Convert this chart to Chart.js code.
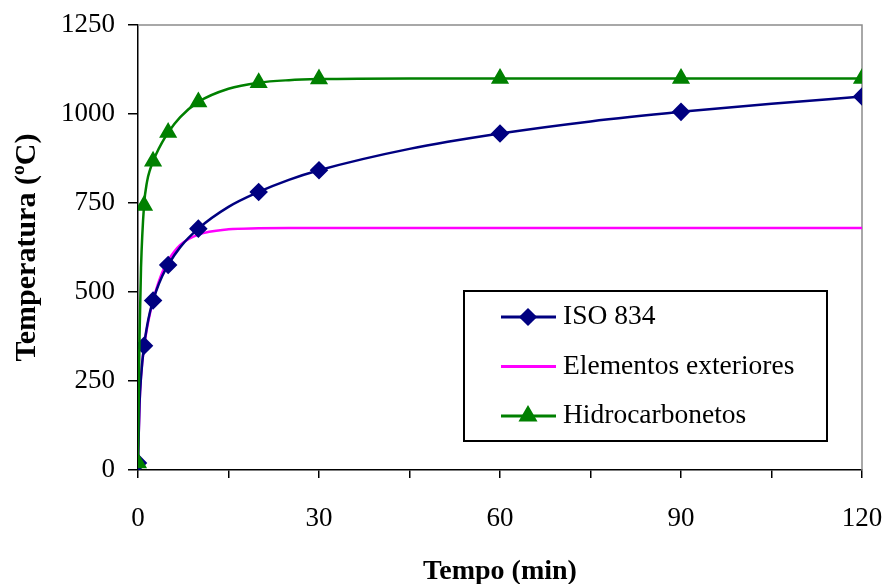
<!DOCTYPE html>
<html>
<head>
<meta charset="utf-8">
<script src="https://cdn.jsdelivr.net/npm/chart.js@4"></script>
<style>
  body { margin: 0; background: #fff; }
</style>
</head>
<body>
<canvas id="graficoFuego" width="888" height="584"></canvas>
<script>
// valores (min / ºC)
const tiempos = [0, 0.25, 0.5, 1, 1.5, 2, 2.5, 3, 4, 5, 7, 10, 15, 20, 25, 30, 45, 60, 75, 90, 105, 120];
const iso834 = [20, 185, 261, 349, 404, 445, 476, 502, 544, 576, 626, 678, 739, 781, 815, 842, 902, 945, 979, 1006, 1029, 1049];
const exteriores = [20, 182, 263, 346, 399, 441, 476, 506, 554, 588, 632, 661, 676, 679, 680, 680, 680, 680, 680, 680, 680, 680];
const hidrocarbonetos = [20, 373, 568, 743, 810, 844, 867, 887, 920, 948, 991, 1034, 1071, 1088, 1095, 1098, 1100, 1100, 1100, 1100, 1100, 1100];
const marcas = [0, 1, 2.5, 5, 10, 20, 30, 60, 90, 120];
const nombres = ["ISO 834", "Elementos exteriores", "Hidrocarbonetos"];

const fuente = "'Liberation Serif', 'Times New Roman', serif";

var puntos = (valores) => tiempos.map((t, i) => ({ x: t, y: valores[i] }));
var radioMarca = (r) => (ctx) => (marcas.includes(tiempos[ctx.dataIndex]) ? r : 0);

// borde gris arriba y a la derecha del area
const bordeArea = {
  id: "bordeArea",
  beforeDatasetsDraw(chart) {
    const { ctx, chartArea: a } = chart;
    ctx.save();
    ctx.strokeStyle = "#8c8c8c";
    ctx.lineWidth = 1.5;
    ctx.beginPath();
    ctx.moveTo(a.left, a.top);
    ctx.lineTo(a.right, a.top);
    ctx.lineTo(a.right, a.bottom);
    ctx.stroke();
    ctx.restore();
  },
};

// leyenda dentro del grafico
const leyendaCaja = {
  id: "leyendaCaja",
  afterDraw(chart) {
    const ctx = chart.ctx;
    ctx.save();
    ctx.fillStyle = "#fff";
    ctx.fillRect(463, 290, 364, 152);
    ctx.strokeStyle = "#000";
    ctx.lineWidth = 2;
    ctx.strokeRect(464, 291, 363, 150);
    chart.data.datasets.forEach((ds, i) => {
      const y = 317 + i * 49.5;
      ctx.strokeStyle = ds.borderColor;
      ctx.fillStyle = ds.borderColor;
      ctx.lineWidth = 3;
      ctx.beginPath();
      ctx.moveTo(501, y);
      ctx.lineTo(556, y);
      ctx.stroke();
      if (ds.pointStyle) {
        Chart.helpers.drawPoint(ctx, { pointStyle: ds.pointStyle, rotation: 0, radius: ds.leyendaRadio, borderWidth: 1 }, 528, y);
      }
      ctx.fillStyle = "#000";
      ctx.font = "27.5px " + fuente;
      ctx.textBaseline = "middle";
      ctx.fillText(nombres[i], 563, y);
    });
    ctx.restore();
  },
};

const chartFuego = new Chart(document.getElementById("graficoFuego").getContext("2d"), {
  type: "line",
  data: {
    datasets: [
      {
        label: nombres[0],
        data: puntos(iso834),
        borderColor: "#000080",
        backgroundColor: "#000080",
        borderWidth: 2.5,
        pointStyle: "rectRot",
        pointRadius: radioMarca(7.5),
        leyendaRadio: 7,
        cubicInterpolationMode: "monotone",
        order: 2,
      },
      {
        label: nombres[1],
        data: puntos(exteriores),
        borderColor: "#ff00ff",
        backgroundColor: "#ff00ff",
        borderWidth: 2.5,
        pointStyle: false,
        pointRadius: 0,
        cubicInterpolationMode: "monotone",
        order: 3,
      },
      {
        label: nombres[2],
        data: puntos(hidrocarbonetos),
        borderColor: "#008000",
        backgroundColor: "#008000",
        borderWidth: 2.5,
        pointStyle: "triangle",
        pointRadius: radioMarca(8),
        leyendaRadio: 8,
        cubicInterpolationMode: "monotone",
        order: 1,
      },
    ],
  },
  options: {
    responsive: false,
    animation: false,
    layout: { padding: { top: 25, right: 26, left: 0, bottom: 0 } },
    scales: {
      x: {
        type: "linear",
        min: 0,
        max: 120,
        afterFit: (s) => {
          s.height = 114;
          s.paddingLeft = 0;
          s.paddingRight = 0;
        },
        ticks: {
          stepSize: 15,
          autoSkip: false,
          maxRotation: 0,
          padding: 25,
          color: "#000",
          font: { family: fuente, size: 27 },
          callback: (v) => (v % 30 === 0 ? String(v) : ""),
        },
        grid: { drawOnChartArea: false, drawTicks: true, tickLength: 8, color: "#000", lineWidth: 1.5 },
        border: { color: "#000", width: 1.5 },
        title: {
          display: true,
          text: "Tempo (min)",
          color: "#000",
          font: { family: fuente, size: 28, weight: "bold" },
          padding: { top: 0, bottom: -5 },
        },
      },
      y: {
        min: 0,
        max: 1250,
        afterFit: (s) => {
          s.width = 138;
          s.paddingTop = 0;
          s.paddingBottom = 0;
        },
        ticks: {
          stepSize: 250,
          padding: 13,
          color: "#000",
          font: { family: fuente, size: 27 },
          callback: (v) => String(v),
        },
        grid: { drawOnChartArea: false, drawTicks: true, tickLength: 10, color: "#000", lineWidth: 1.5 },
        border: { color: "#000", width: 1.5 },
        title: {
          display: true,
          text: "Temperatura (ºC)",
          color: "#000",
          font: { family: fuente, size: 30, weight: "bold" },
          padding: { top: 9, bottom: 0 },
        },
      },
    },
    plugins: {
      legend: { display: false },
      tooltip: { enabled: false },
    },
  },
  plugins: [bordeArea, leyendaCaja],
});
</script>
</body>
</html>
